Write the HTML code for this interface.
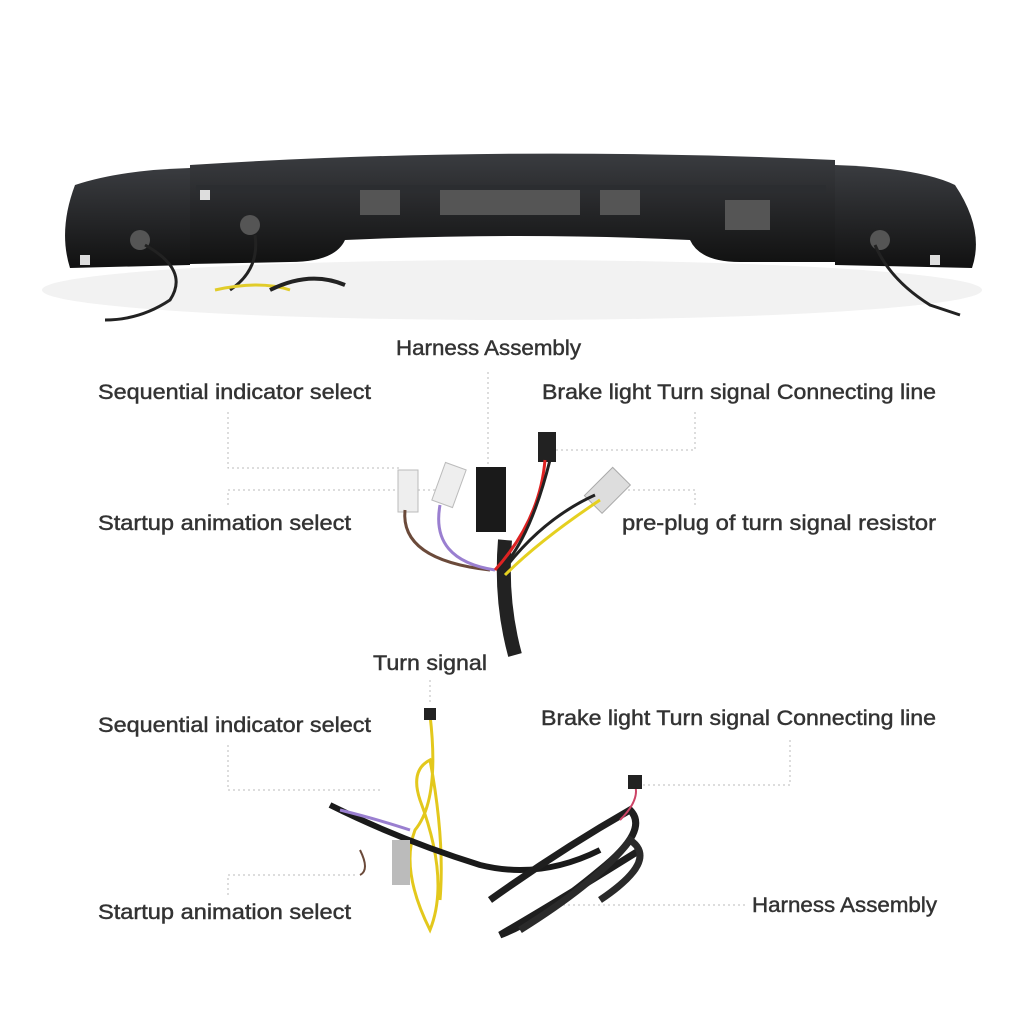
<!DOCTYPE html>
<html><head><meta charset="utf-8"><style>
body{margin:0;background:#fff;}
svg{display:block}
text{font-family:"Liberation Sans",sans-serif;font-size:21px;fill:#333;stroke:#333;stroke-width:0.45;}
</style></head><body>
<svg width="1024" height="1024" viewBox="0 0 1024 1024">
<defs><linearGradient id="g" x1="0" y1="0" x2="0" y2="1"><stop offset="0" stop-color="#3a3c40"/><stop offset="1" stop-color="#111"/></linearGradient></defs>
<ellipse cx="512" cy="290" rx="470" ry="30" fill="#f2f2f2"/>
<path d="M75 185 Q120 170 190 168 L190 265 L70 268 Q58 230 75 185Z" fill="url(#g)"/>
<path d="M190 165 Q500 145 835 160 L835 262 L740 262 Q700 262 690 240 Q520 232 345 240 Q335 262 290 262 L190 264Z" fill="url(#g)"/>
<path d="M835 165 Q920 168 955 185 Q985 230 972 268 L835 265Z" fill="url(#g)"/>
<rect x="196" y="185" width="630" height="8" fill="#2b2d30"/>
<g fill="#555"><circle cx="140" cy="240" r="10"/><circle cx="250" cy="225" r="10"/><circle cx="880" cy="240" r="10"/><rect x="360" y="190" width="40" height="25"/><rect x="440" y="190" width="140" height="25"/><rect x="600" y="190" width="40" height="25"/><rect x="725" y="200" width="45" height="30"/></g>
<g fill="#ddd"><rect x="80" y="255" width="10" height="10"/><rect x="200" y="190" width="10" height="10"/><rect x="930" y="255" width="10" height="10"/></g>
<path d="M145 245 Q190 270 170 300 Q140 320 105 320" stroke="#222" stroke-width="3" fill="none"/>
<path d="M255 235 Q260 270 230 290" stroke="#222" stroke-width="3" fill="none"/>
<path d="M215 290 Q260 280 290 290" stroke="#e1cc2a" stroke-width="3" fill="none"/>
<path d="M270 290 Q310 270 345 285" stroke="#222" stroke-width="4" fill="none"/>
<path d="M875 245 Q890 280 930 305 L960 315" stroke="#222" stroke-width="3" fill="none"/>
<text x="396" y="355" textLength="185" lengthAdjust="spacingAndGlyphs">Harness Assembly</text>
<text x="98" y="399" textLength="273" lengthAdjust="spacingAndGlyphs">Sequential indicator select</text>
<text x="542" y="399" textLength="394" lengthAdjust="spacingAndGlyphs">Brake light Turn signal Connecting line</text>
<text x="98" y="530" textLength="253" lengthAdjust="spacingAndGlyphs">Startup animation select</text>
<text x="622" y="530" textLength="314" lengthAdjust="spacingAndGlyphs">pre-plug of turn signal  resistor</text>
<text x="373" y="670" textLength="114" lengthAdjust="spacingAndGlyphs">Turn signal</text>
<text x="98" y="732" textLength="273" lengthAdjust="spacingAndGlyphs">Sequential indicator select</text>
<text x="541" y="725" textLength="395" lengthAdjust="spacingAndGlyphs">Brake light Turn signal Connecting line</text>
<text x="98" y="919" textLength="253" lengthAdjust="spacingAndGlyphs">Startup animation select</text>
<text x="752" y="912" textLength="185" lengthAdjust="spacingAndGlyphs">Harness Assembly</text>
<g stroke="#bbb" stroke-dasharray="2,3" fill="none">
<path d="M228 412 V468 H400"/><path d="M228 505 V490 H440"/><path d="M488 372 V470"/>
<path d="M695 412 V450 H555"/><path d="M695 505 V490 H610"/>
<path d="M228 745 V790 H380"/><path d="M228 895 V875 H355"/><path d="M430 680 V705"/>
<path d="M790 740 V785 H640"/><path d="M745 905 H560"/>
</g>
<path d="M505 540 Q500 600 515 655" stroke="#222" stroke-width="14" fill="none"/>
<rect x="476" y="467" width="30" height="65" fill="#1a1a1a"/>
<rect x="538" y="432" width="18" height="30" fill="#222"/>
<rect x="398" y="470" width="20" height="42" fill="#eee" stroke="#bbb"/>
<rect x="438" y="465" width="22" height="40" fill="#eee" stroke="#bbb" transform="rotate(20 449 485)"/>
<rect x="595" y="470" width="25" height="40" fill="#ddd" stroke="#aaa" transform="rotate(45 607 490)"/>
<path d="M405 510 Q400 560 490 570" stroke="#6b4a3a" stroke-width="3" fill="none"/>
<path d="M440 505 Q430 560 495 570" stroke="#9a7fd0" stroke-width="3" fill="none"/>
<path d="M545 460 Q540 520 495 570" stroke="#d22" stroke-width="3" fill="none"/>
<path d="M550 460 Q530 540 500 570" stroke="#222" stroke-width="3" fill="none"/>
<path d="M595 495 Q540 520 500 575" stroke="#222" stroke-width="3" fill="none"/>
<path d="M600 500 Q540 540 505 575" stroke="#e5d020" stroke-width="3" fill="none"/>
<path d="M430 715 Q440 800 415 830 Q400 870 430 930 Q450 880 420 800 Q410 770 430 760 Q445 840 440 900" stroke="#e3c81c" stroke-width="3" fill="none"/>
<path d="M330 805 Q400 840 480 865 Q540 880 600 850" stroke="#1a1a1a" stroke-width="6" fill="none"/>
<path d="M490 900 Q560 850 630 810 Q650 830 600 870 Q540 920 500 935 Q560 900 640 850" stroke="#1e1e1e" stroke-width="7" fill="none"/>
<path d="M520 930 Q600 880 630 840 Q660 860 600 900" stroke="#2a2a2a" stroke-width="7" fill="none"/>
<path d="M635 785 Q640 800 620 820" stroke="#c46" stroke-width="2" fill="none"/>
<rect x="392" y="840" width="18" height="45" fill="#bbb"/>
<rect x="628" y="775" width="14" height="14" fill="#222"/>
<rect x="424" y="708" width="12" height="12" fill="#222"/>
<path d="M340 810 Q380 820 410 830" stroke="#9a7fd0" stroke-width="3" fill="none"/>
<path d="M360 850 Q370 870 360 875" stroke="#6b4a3a" stroke-width="2" fill="none"/>
</svg>
</body></html>
